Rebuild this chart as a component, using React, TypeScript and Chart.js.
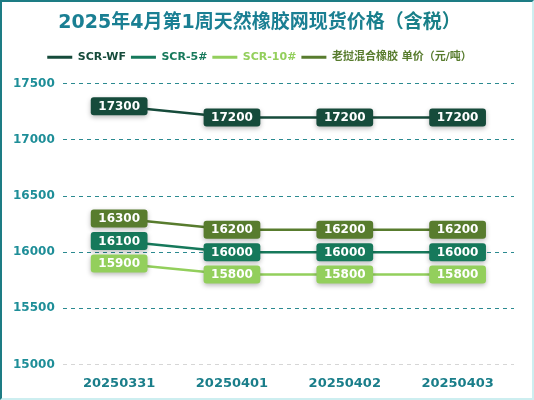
import React, { useEffect, useRef } from "react";
import { Chart, registerables } from "chart.js";

Chart.register(...registerables);

const TITLE = "2025年4月第1周天然橡胶网现货价格（含税）";
const categories = ["20250331", "20250401", "20250402", "20250403"];
const seriesNames = ["SCR-WF", "SCR-5#", "SCR-10#", "老挝混合橡胶 单价（元/吨）"];
const scrWF = [17300, 17200, 17200, 17200];
const scr5 = [16100, 16000, 16000, 16000];
const scr10 = [15900, 15800, 15800, 15800];
const laos = [16300, 16200, 16200, 16200];
const yMin = 15000;
const yMax = 17500;
const yStep = 500;

const colors = ["#164b3b", "#16795b", "#93cf5c", "#587c2e"];
const FONT = "'DejaVu Sans', 'Noto Sans CJK SC', sans-serif";

const labelPlugin = {
  id: "boxLabels",
  beforeInit(chart: any) {
    const legend = chart.legend;
    if (legend) {
      const orig = legend.fit;
      legend.fit = function () {
        orig.call(this);
        this.height += 11;
      };
    }
  },
  afterDatasetsDraw(chart: any) {
    const ctx = chart.ctx;
    chart.data.datasets.forEach((ds: any, di: number) => {
      const meta = chart.getDatasetMeta(di);
      if (meta.hidden) return;
      meta.data.forEach((pt: any, i: number) => {
        const text = String(ds.data[i]);
        ctx.save();
        ctx.font = `bold 12px ${FONT}`;
        const tw = ctx.measureText(text).width;
        const w = tw + 15;
        const h = 18;
        const x = pt.x - w / 2;
        const y = pt.y - h / 2;
        ctx.shadowColor = "rgba(0,0,0,0.28)";
        ctx.shadowBlur = 5;
        ctx.shadowOffsetY = 2;
        ctx.fillStyle = ds.borderColor;
        ctx.beginPath();
        ctx.roundRect(x, y, w, h, 3);
        ctx.fill();
        ctx.shadowColor = "transparent";
        ctx.fillStyle = "#ffffff";
        ctx.textAlign = "center";
        ctx.textBaseline = "middle";
        ctx.fillText(text, pt.x, pt.y + 0.5);
        ctx.restore();
      });
    });
  },
};

export default function App() {
  const ref = useRef<HTMLCanvasElement | null>(null);
  useEffect(() => {
    document.body.style.margin = "0";
    const canvas = ref.current!;
    const c2d = canvas.getContext("2d")!;
    const grad = c2d.createLinearGradient(60, 0, 460, 0);
    grad.addColorStop(0, "#1a7f93");
    grad.addColorStop(0.5, "#17807e");
    grad.addColorStop(1, "#1f8a86");
    const data = [scrWF, scr5, scr10, laos];
    const chart = new Chart(canvas, {
      type: "line",
      data: {
        labels: categories,
        datasets: data.map((d, i) => ({
          label: seriesNames[i],
          data: d,
          borderColor: colors[i],
          backgroundColor: colors[i],
          borderWidth: 2.5,
          pointRadius: 0,
          tension: 0,
        })),
      },
      plugins: [labelPlugin],
      options: {
        responsive: false,
        animation: false,
        layout: { padding: { left: 3, right: 18, top: 4, bottom: 4 } },
        plugins: {
          title: {
            display: true,
            text: TITLE,
            color: grad as any,
            font: { family: FONT, size: 19, weight: "bold" },
            padding: { top: 6, bottom: 12 },
          },
          legend: {
            display: true,
            labels: {
              boxWidth: 25,
              boxHeight: 3,
              padding: 5,
              font: { family: FONT, size: 11, weight: "bold" },
              generateLabels(chart: any) {
                return chart.data.datasets.map((ds: any, i: number) => ({
                  text: ds.label,
                  fillStyle: ds.borderColor,
                  strokeStyle: ds.borderColor,
                  lineWidth: 0,
                  fontColor: ds.borderColor,
                  hidden: false,
                  datasetIndex: i,
                }));
              },
            },
          },
          tooltip: { enabled: false },
        },
        scales: {
          x: {
            offset: true,
            grid: { display: false },
            border: { display: false },
            ticks: {
              color: "#1a7e8a",
              font: { family: FONT, size: 13, weight: "bold" },
              padding: 3,
            },
          },
          y: {
            min: yMin,
            max: yMax,
            border: { display: false, dash: [4, 4] },
            grid: {
              color: (c: any) => (c.tick && c.tick.value === yMin ? "#d6d6d6" : "#2b8a90"),
              lineWidth: 1,
              drawTicks: false,
            },
            ticks: {
              stepSize: yStep,
              color: "#1e8e98",
              padding: 8,
              font: { family: FONT, size: 12, weight: "bold" },
              callback: (v: any) => String(v),
            },
          },
        },
      },
    });
    return () => chart.destroy();
  }, []);

  return (
    <div
      style={{
        position: "absolute",
        left: 0,
        top: 0,
        width: 534,
        height: 400,
        boxSizing: "border-box",
        borderTop: "2px solid #1d7c84",
        borderLeft: "2px solid #1d7c84",
        borderRight: "2px solid #cdeef0",
        borderBottom: "2px solid #cdeef0",
        background: "#ffffff",
      }}
    >
      <canvas ref={ref} width={530} height={396} style={{ display: "block" }} />
    </div>
  );
}
